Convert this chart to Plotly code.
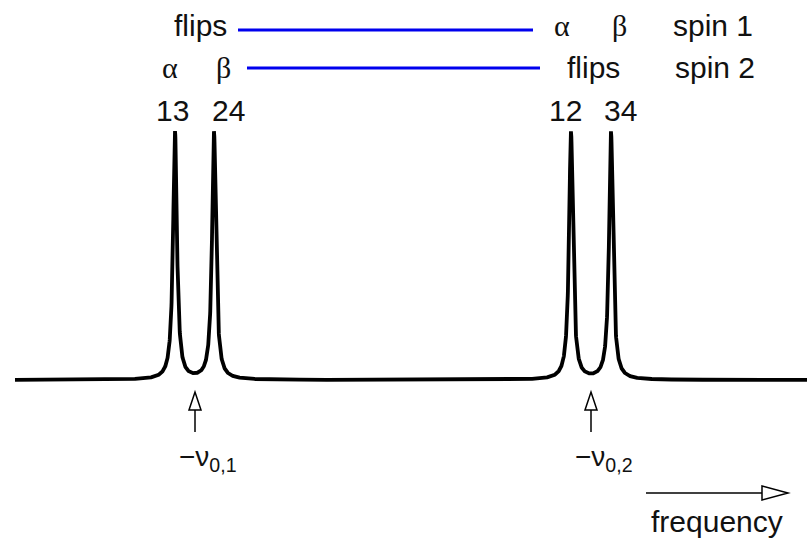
import numpy as np
import plotly.graph_objects as go

# ---- data ----
peak_labels = ["13", "24", "12", "34"]
peak_centers = [175, 214, 571, 611]        # frequency (arbitrary units)
peak_heights = [1.0, 1.0, 1.0, 1.0]
peak_halfwidths = [2.3, 2.3, 2.3, 2.3]
freq_start, freq_end = 15, 807
larmor_labels = ["0,1", "0,2"]
larmor_positions = [195, 591]

# ---- build spectrum from the Lorentzian line parameters ----
x = np.linspace(freq_start, freq_end, 6000)
y = np.zeros_like(x)
for c, h, g in zip(peak_centers, peak_heights, peak_halfwidths):
    y += h * g**2 / ((x - c) ** 2 + g**2)

W, H = 807, 540
BASE_PX, TOP_PX = 380, 132
scale = BASE_PX - TOP_PX


def py(p):
    """pixel row -> intensity units"""
    return (BASE_PX - p) / scale


fig = go.Figure()
fig.add_trace(go.Scatter(x=x, y=y, mode="lines",
                         line=dict(color="black", width=3.8),
                         hoverinfo="skip", showlegend=False))

SANS = "Liberation Sans, Arial, sans-serif"
SERIF = "Liberation Serif, Times New Roman, serif"
FS = 30
ann = []


def txt(t, xx, yy, font=SANS, size=FS, xanchor="center"):
    ann.append(dict(x=xx, y=py(yy), text=t, showarrow=False, xanchor=xanchor,
                    yanchor="middle", font=dict(family=font, size=size, color="#111")))


# row 1
txt("flips", 200, 25)
txt("α", 562, 25, SERIF)
txt("β", 619, 25, SERIF)
txt("spin 1", 713, 25)
# row 2
txt("α", 170, 67, SERIF)
txt("β", 223, 67, SERIF)
txt("flips", 593, 67)
txt("spin 2", 715, 67)
# peak labels
lab_x = [172, 228, 565, 620]
for lab, lx in zip(peak_labels, lab_x):
    txt(lab, lx, 110)

# Larmor frequency labels
for lbl, lp in zip(larmor_labels, larmor_positions):
    txt("−ν<sub>" + lbl + "</sub>", lp - 18, 458, size=28, xanchor="left")

txt("frequency", 717, 521)

shapes = []
# blue lines
shapes.append(dict(type="line", x0=238, x1=533, y0=py(30), y1=py(30),
                   line=dict(color="#0000EE", width=3)))
shapes.append(dict(type="line", x0=247, x1=540, y0=py(68), y1=py(68),
                   line=dict(color="#0000EE", width=3)))

# up arrows at Larmor frequencies
for lp in larmor_positions:
    shapes.append(dict(type="line", x0=lp, x1=lp, y0=py(432), y1=py(410),
                       line=dict(color="black", width=1.5)))
    shapes.append(dict(type="path",
                       path=f"M {lp-6},{py(410)} L {lp},{py(392)} L {lp+6},{py(410)} Z",
                       fillcolor="white", line=dict(color="black", width=1.5)))

# frequency arrow
shapes.append(dict(type="line", x0=646, x1=762, y0=py(493), y1=py(493),
                   line=dict(color="black", width=1.5)))
shapes.append(dict(type="path",
                   path=f"M 762,{py(486)} L 788,{py(493)} L 762,{py(500)} Z",
                   fillcolor="white", line=dict(color="black", width=1.5)))

fig.update_layout(
    width=W, height=H, autosize=False,
    margin=dict(l=0, r=0, t=0, b=0),
    paper_bgcolor="white", plot_bgcolor="white",
    xaxis=dict(range=[0, W], visible=False, fixedrange=True),
    yaxis=dict(range=[py(H), py(0)], visible=False, fixedrange=True),
    annotations=ann, shapes=shapes, showlegend=False,
)
fig.write_html("out.html")
